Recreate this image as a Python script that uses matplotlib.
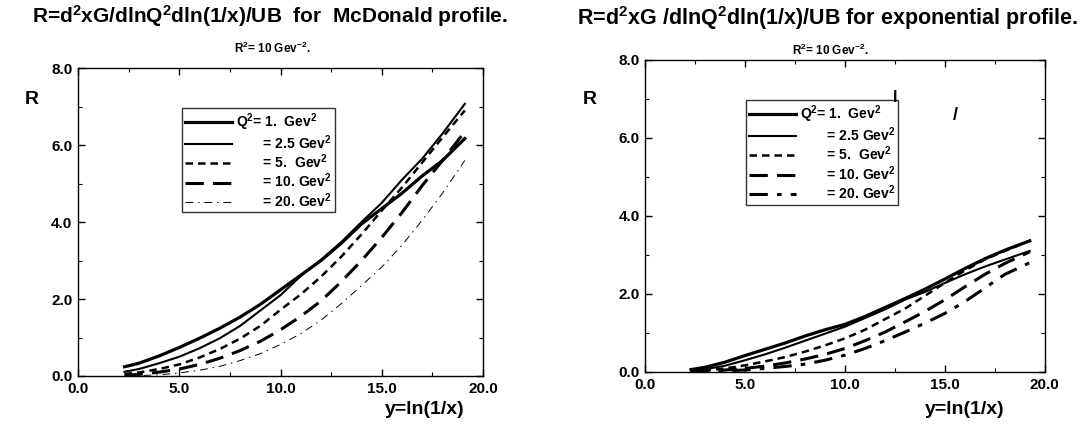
import numpy as np
import matplotlib
matplotlib.use("Agg")
import matplotlib.pyplot as plt
from matplotlib.ticker import MultipleLocator

plt.rcParams["font.family"] = ["Liberation Sans", "DejaVu Sans"]
plt.rcParams["font.weight"] = "bold"
plt.rcParams["mathtext.default"] = "regular"

# y = ln(1/x) sample points
Y_LEFT = [2.3, 3, 4, 5, 6, 7, 8, 9, 10, 11, 12, 13, 14, 15, 16, 17, 18, 19.1]
Y_RIGHT = [2.3, 3, 4, 5, 6, 7, 8, 9, 10, 11, 12, 13, 14, 15, 16, 17, 18, 19.25]

# McDonald profile, one list per Q^2
MCD_Q1 = [0.24, 0.33, 0.52, 0.74, 0.98, 1.24, 1.53, 1.86, 2.24, 2.62, 3.0, 3.45, 3.95, 4.35, 4.75, 5.2, 5.6, 6.17]
MCD_Q2_5 = [0.11, 0.18, 0.33, 0.5, 0.72, 0.98, 1.3, 1.7, 2.1, 2.6, 3.02, 3.48, 4.0, 4.5, 5.1, 5.65, 6.3, 7.07]
MCD_Q5 = [0.05, 0.09, 0.18, 0.3, 0.48, 0.7, 0.97, 1.3, 1.72, 2.12, 2.58, 3.1, 3.68, 4.3, 4.9, 5.55, 6.2, 6.9]
MCD_Q10 = [0.02, 0.04, 0.1, 0.18, 0.3, 0.46, 0.66, 0.9, 1.2, 1.55, 1.95, 2.45, 3.0, 3.6, 4.25, 4.95, 5.6, 6.35]
MCD_Q20 = [0.0, 0.01, 0.03, 0.08, 0.15, 0.25, 0.4, 0.58, 0.82, 1.1, 1.45, 1.88, 2.35, 2.83, 3.4, 4.05, 4.75, 5.6]

# exponential profile
EXP_Q1 = [0.06, 0.12, 0.25, 0.42, 0.58, 0.74, 0.92, 1.08, 1.22, 1.42, 1.65, 1.88, 2.12, 2.38, 2.65, 2.9, 3.12, 3.36]
EXP_Q2_5 = [0.03, 0.07, 0.16, 0.3, 0.45, 0.62, 0.8, 0.98, 1.16, 1.38, 1.6, 1.85, 2.05, 2.28, 2.5, 2.7, 2.88, 3.1]
EXP_Q5 = [0.02, 0.04, 0.09, 0.17, 0.27, 0.38, 0.52, 0.68, 0.86, 1.08, 1.35, 1.62, 1.95, 2.28, 2.6, 2.88, 3.1, 3.36]
EXP_Q10 = [0.01, 0.02, 0.05, 0.09, 0.15, 0.23, 0.33, 0.45, 0.6, 0.8, 1.02, 1.28, 1.55, 1.85, 2.18, 2.5, 2.78, 3.08]
EXP_Q20 = [0.0, 0.01, 0.03, 0.05, 0.09, 0.14, 0.2, 0.3, 0.43, 0.6, 0.8, 1.02, 1.25, 1.5, 1.8, 2.15, 2.5, 2.8]

LABELS = [
    r"Q$^2$= 1.  Gev$^2$",
    r"       = 2.5 Gev$^2$",
    r"       = 5.  Gev$^2$",
    r"       = 10. Gev$^2$",
    r"       = 20. Gev$^2$",
]

TITLE_LEFT = r"R=d$^2$xG/dlnQ$^2$dln(1/x)/UB  for  McDonald profile."
TITLE_RIGHT = r"R=d$^2$xG /dlnQ$^2$dln(1/x)/UB for exponential profile."
SUBTITLE = r"R$^2$= 10 Gev$^{-2}$."

XTICKS = [0, 5, 10, 15, 20]
YTICKS = [0, 2, 4, 6, 8]


def draw_panel(ax, ys, curves, thin_dashdot, leg_anchor):
    styles = [
        dict(lw=2.3, ls="-"),
        dict(lw=1.5, ls="-"),
        dict(lw=1.8, ls=(0, (3, 2))),
        dict(lw=2.2, ls=(0, (6, 3))),
        dict(lw=0.7, ls=(0, (8, 5, 1.5, 5))) if thin_dashdot
        else dict(lw=2.2, ls=(0, (6, 3, 1.5, 3))),
    ]
    for vals, st, lab in zip(curves, styles, LABELS):
        ax.plot(ys, vals, color="black", label=lab, **st)

    ax.set_xlim(0, 20)
    ax.set_ylim(0, 8)
    ax.set_xticks(XTICKS)
    ax.set_yticks(YTICKS)
    ax.set_xticklabels([f"{v:.1f}" for v in XTICKS], fontsize=11, fontweight="bold")
    ax.set_yticklabels([f"{v:.1f}" for v in YTICKS], fontsize=11, fontweight="bold")
    ax.xaxis.set_minor_locator(MultipleLocator(2.5))
    ax.yaxis.set_minor_locator(MultipleLocator(1))
    ax.tick_params(which="both", direction="in", top=True, right=True)
    ax.tick_params(which="major", length=5, width=1, pad=4)
    ax.tick_params(which="minor", length=3, width=0.8)
    for sp in ax.spines.values():
        sp.set_linewidth(1.0)

    leg = ax.legend(
        loc="upper left",
        bbox_to_anchor=leg_anchor,
        frameon=True,
        fancybox=False,
        edgecolor="black",
        handlelength=3.4,
        handletextpad=0.3,
        borderpad=0.2,
        labelspacing=0.05,
        borderaxespad=0,
        prop=dict(size=10, weight="bold"),
    )
    leg.get_frame().set_linewidth(1.0)


fig = plt.figure(figsize=(10.86, 4.30), dpi=100)

ax1 = fig.add_axes([0.0718, 0.1256, 0.373, 0.716])
draw_panel(ax1, Y_LEFT, [MCD_Q1, MCD_Q2_5, MCD_Q5, MCD_Q10, MCD_Q20], True, (0.257, 0.87))

ax2 = fig.add_axes([0.594, 0.135, 0.368, 0.726])
draw_panel(ax2, Y_RIGHT, [EXP_Q1, EXP_Q2_5, EXP_Q5, EXP_Q10, EXP_Q20], False, (0.252, 0.87))

fig.text(270 / 1086, 1 - 16 / 430, TITLE_LEFT, ha="center", va="center", fontsize=15, fontweight="bold")
fig.text(827 / 1086, 1 - 18 / 430, TITLE_RIGHT, ha="center", va="center", fontsize=15.5, fontweight="bold")
fig.text(272 / 1086, 1 - 48 / 430, SUBTITLE, ha="center", va="center", fontsize=8.5, fontweight="bold")
fig.text(830 / 1086, 1 - 50 / 430, SUBTITLE, ha="center", va="center", fontsize=8.5, fontweight="bold")

fig.text(32 / 1086, 1 - 100 / 430, "R", ha="center", va="center", fontsize=14, fontweight="bold")
fig.text(590 / 1086, 1 - 100 / 430, "R", ha="center", va="center", fontsize=14, fontweight="bold")
fig.text(425 / 1086, 1 - 410 / 430, "y=ln(1/x)", ha="center", va="center", fontsize=14, fontweight="bold")
fig.text(965 / 1086, 1 - 410 / 430, "y=ln(1/x)", ha="center", va="center", fontsize=14, fontweight="bold")

# stray marks on the scanned right panel
fig.text(895 / 1086, 1 - 97 / 430, "l", ha="center", va="center", fontsize=12, fontweight="bold")
fig.text(955 / 1086, 1 - 115 / 430, "/", ha="center", va="center", fontsize=13, fontweight="bold")

fig.savefig("out.png", dpi=100)
